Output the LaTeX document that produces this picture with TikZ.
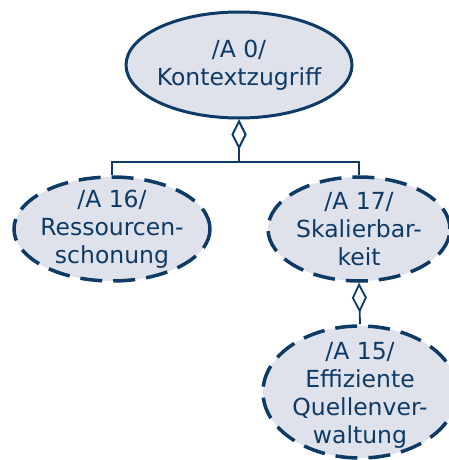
\documentclass[tikz,border=0pt]{standalone}
\usepackage{fontspec}
\setmainfont{DejaVu Sans}
\usetikzlibrary{shapes.geometric,arrows.meta}
\definecolor{reqfill}{HTML}{DFE2EB}
\definecolor{reqline}{HTML}{0E3A66}
\begin{document}
\begin{tikzpicture}[x=1pt,y=-1pt,
  req/.style={ellipse, draw=reqline, fill=reqfill, line width=3pt,
    inner sep=0pt},
  optreq/.style={req, line width=3.5pt, dash pattern=on 22pt off 11pt},
  reqtext/.style={align=center, text=reqline, inner sep=0pt,
    font=\fontsize{23.5}{28}\selectfont},
  agg/.style={draw=reqline, line width=1.8pt,
    {Diamond[open,length=30pt,width=15pt,fill=white]}-}]
  \useasboundingbox (0,0) rectangle (449,460);
  % requirement ellipses
  \node[req, minimum width=226pt, minimum height=106pt] (a0) at (239,65) {};
  \node[optreq, minimum width=196pt, minimum height=104pt] (a16) at (112,229) {};
  \node[optreq, minimum width=182pt, minimum height=104pt] (a17) at (359,229) {};
  \node[optreq, minimum width=194pt, minimum height=132pt] (a15) at (360,392) {};
  % requirement labels
  \node[reqtext] (t0) at (a0) {/A 0/\\Kontextzugriff};
  \node[reqtext] (t16) at (a16) {/A 16/\\Ressourcen-\\schonung};
  \node[reqtext] (t17) at (a17) {/A 17/\\Skalierbar-\\keit};
  \node[reqtext] (t15) at ([yshift=-3pt]a15) {/A 15/\\Effiziente\\Quellenver-\\waltung};
  % aggregation links
  \coordinate (j0) at (239,162);
  \draw[agg] (a0.south) -- (j0) -| (a16.north);
  \draw[agg] (a0.south) -- (j0) -| (a17.north);
  \draw[agg] (a17.south) -- (a15.north);
\end{tikzpicture}
\end{document}
